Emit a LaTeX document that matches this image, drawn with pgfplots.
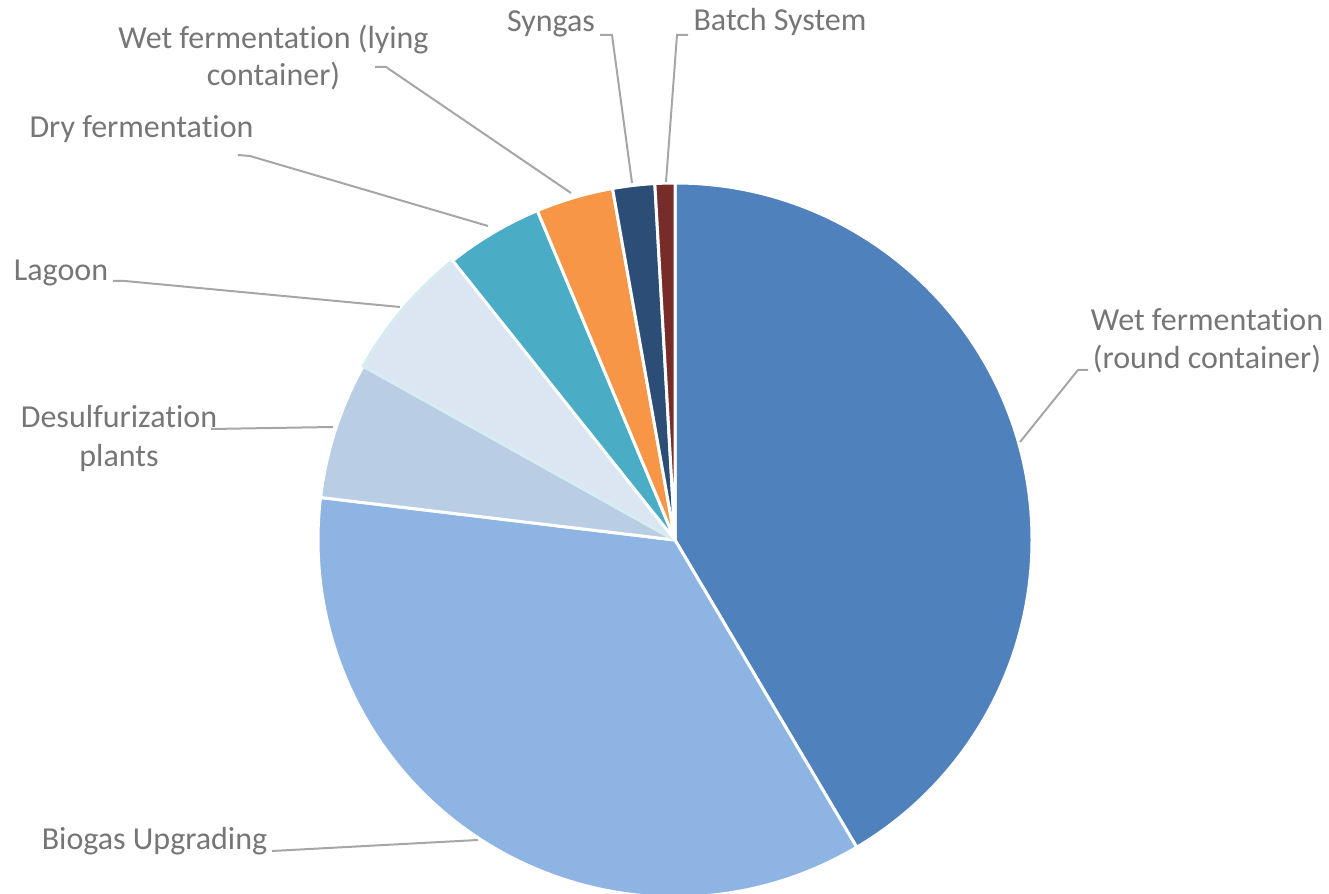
\documentclass[border=0pt]{standalone}
\usepackage{pgfplots}
\pgfplotsset{compat=1.18}
\usepackage{fontspec}
\setmainfont{Carlito}[RawFeature={-liga;-clig;-dlig}]

\definecolor{cWetRound}{HTML}{4F81BD}
\definecolor{cBiogas}{HTML}{8EB4E3}
\definecolor{cDesulf}{HTML}{B9CDE5}
\definecolor{cLagoon}{HTML}{DCE6F2}
\definecolor{cLagoonEdge}{HTML}{D6ECF3}
\definecolor{cDry}{HTML}{4BACC6}
\definecolor{cWetLying}{HTML}{F79646}
\definecolor{cSyngas}{HTML}{2C4D75}
\definecolor{cBatch}{HTML}{772C2A}
\definecolor{txt}{RGB}{118,118,118}
\definecolor{lead}{RGB}{166,166,166}

\tikzset{lbl/.style={text=txt, font=\fontsize{16}{18}\selectfont, inner sep=0pt, anchor=base},
         ldr/.style={lead, line width=1pt}}

% running total of the percentages, slices go clockwise from 12 o'clock
\gdef\cum{0}
\newcommand{\slice}[3]{%
  \pgfmathsetmacro\sa{90-3.6*\cum}%
  \pgfmathsetmacro\sb{90-3.6*(\cum+#1)}%
  \pgfmathsetmacro\newcum{\cum+#1}%
  \xdef\cum{\newcum}%
  \edef\tmp{\noexpand\filldraw[fill=#2,draw=#3,line width=1.5pt,line join=round]
    (axis cs:675,354) -- ++(\sa:178.5pt) arc[start angle=\sa,end angle=\sb,radius=178.5pt] -- cycle;}%
  \tmp}

\begin{document}
\begin{tikzpicture}
\begin{axis}[
    x=0.5pt, y=0.5pt,
    xmin=0, xmax=1329, ymin=0, ymax=894,
    hide axis, clip=false,
]
\slice{41.5}{cWetRound}{white}
\slice{35.4}{cBiogas}{white}
\slice{6.2}{cDesulf}{white}
\slice{6.2}{cLagoon}{cLagoonEdge}
\slice{4.4}{cDry}{white}
\slice{3.5}{cWetLying}{white}
\slice{1.9}{cSyngas}{white}
\slice{0.9}{cBatch}{white}

% leader lines
\draw[ldr] (axis cs:1088,524) -- (axis cs:1078,524) -- (axis cs:1020,452);
\draw[ldr] (axis cs:272,43) -- (axis cs:478,54);
\draw[ldr] (axis cs:211,465) -- (axis cs:333,467);
\draw[ldr] (axis cs:113,613) -- (axis cs:125,613) -- (axis cs:400,587);
\draw[ldr] (axis cs:238,739) -- (axis cs:250,738) -- (axis cs:488,668);
\draw[ldr] (axis cs:375,827) -- (axis cs:386,827) -- (axis cs:571,701);
\draw[ldr] (axis cs:600,859) -- (axis cs:612,859) -- (axis cs:632,711);
\draw[ldr] (axis cs:688,859) -- (axis cs:677,859) -- (axis cs:666,712);

% labels
\node[lbl] at (axis cs:1207,563) {Wet fermentation};
\node[lbl] at (axis cs:1207,525) {(round container)};
\node[lbl] at (axis cs:154.5,44) {Biogas Upgrading};
\node[lbl] at (axis cs:119,466) {Desulfurization};
\node[lbl] at (axis cs:119,427) {plants};
\node[lbl] at (axis cs:61,613) {Lagoon};
\node[lbl] at (axis cs:141.5,756) {Dry fermentation};
\node[lbl] at (axis cs:273.5,845) {Wet fermentation (lying};
\node[lbl] at (axis cs:273.5,808) {container)};
\node[lbl] at (axis cs:551,862) {Syngas};
\node[lbl] at (axis cs:780,863) {Batch System};
\end{axis}
\pgfresetboundingbox
\path (current axis.south west) rectangle (current axis.north east);
\end{tikzpicture}
\end{document}
